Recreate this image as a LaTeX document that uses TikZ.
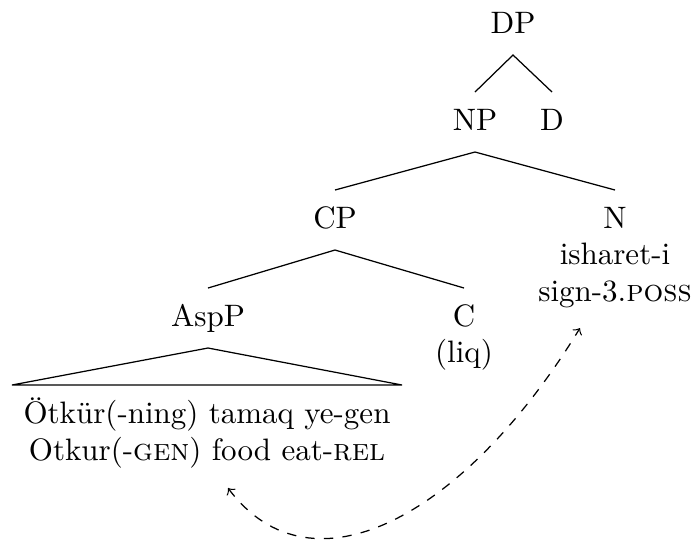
\documentclass[tikz,border=0pt]{standalone}
\usetikzlibrary{calc}
\begin{document}
\begin{tikzpicture}[x=0.3226pt,y=-0.3226pt,
  lab/.style={anchor=base,inner sep=0pt},
  branch/.style={line width=0.4pt},
  move/.style={dashed,<->,line width=0.4pt}]
\useasboundingbox (0,0) rectangle (696,541);
\node[lab] (DP) at (513,33) {DP};
\node[lab] (NP) at (475,130) {NP};
\node[lab] (D) at (552,130) {D};
\node[lab] (CP) at (335,228) {CP};
\node[lab] (N) at (615,228) {N};
\node[lab] (Nw) at (615,264) {isharet-i};
\node[lab] (Ng) at (615,301) {sign-3.\textsc{poss}};
\node[lab] (AspP) at (208,326) {AspP};
\node[lab] (C) at (464,326) {C};
\node[lab] (Cw) at (464,362) {(liq)};
\node[lab] (T1) at (207,423) {Ötkür(-ning) tamaq ye-gen};
\node[lab] (T2) at (207,460) {Otkur(-\textsc{gen}) food eat-\textsc{rel}};
% branches
\draw[branch] ($(NP.base)+(0,-38)$) -- ($(DP.base)+(0,22)$) -- ($(D.base)+(0,-38)$);
\draw[branch] ($(CP.base)+(0,-38)$) -- ($(NP.base)+(0,22)$) -- ($(N.base)+(0,-38)$);
\draw[branch] ($(AspP.base)+(0,-38)$) -- ($(CP.base)+(0,22)$) -- ($(C.base)+(0,-38)$);
\draw[branch] ($(AspP.base)+(0,22)$) -- ($(T1.base west)+(-11,-38)$) -- ($(T1.base east)+(11,-38)$) -- cycle;
% movement arrow
\coordinate (m1) at ($(T2.base)+(21,28)$);
\coordinate (m2) at ($(Ng.base)+(-35,27)$);
\draw[move] (m1) .. controls (312,600) and (466,515) .. (m2);
\end{tikzpicture}
\end{document}
